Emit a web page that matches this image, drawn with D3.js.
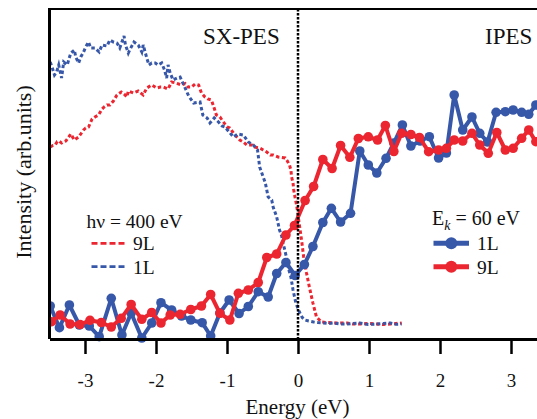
<!DOCTYPE html>
<html>
<head>
<meta charset="utf-8">
<script src="https://cdn.jsdelivr.net/npm/d3@7"></script>
<style>
  body { margin: 0; background: #fff; }
  svg { display: block; }
</style>
</head>
<body>
<svg id="chart" width="537" height="419"></svg>
<script>
// ---- Data (energy in eV relative to E_F, intensity in arbitrary units) ----
const tickValues = [-3, -2, -1, 0, 1, 2, 3];

// SX-PES, hv = 400 eV
const pesE1L = [-3.49,-3.46,-3.43,-3.40,-3.37,-3.33,-3.30,-3.25,-3.23,-3.20,-3.15,-3.13,-3.09,-3.06,-3.02,-2.99,-2.95,-2.92,-2.86,-2.80,-2.76,-2.69,-2.65,-2.60,-2.55,-2.51,-2.45,-2.43,-2.39,-2.37,-2.31,-2.25,-2.20,-2.18,-2.13,-2.10,-2.06,-2.01,-1.97,-1.92,-1.88,-1.85,-1.83,-1.80,-1.76,-1.70,-1.66,-1.59,-1.54,-1.47,-1.38,-1.34,-1.28,-1.24,-1.18,-1.12,-1.07,-1.03,-0.97,-0.91,-0.85,-0.77,-0.70,-0.63,-0.57,-0.54,-0.50,-0.46,-0.42,-0.37,-0.35,-0.30,-0.26,-0.23,-0.21,-0.16,-0.14,-0.10,-0.07,-0.03,0.02,0.06,0.10,0.15,0.22,0.28,0.36,0.42,0.50,0.59,0.69,0.77,0.87,0.99,1.11,1.20,1.30,1.38,1.46];
const pesI1L = [277,271,264,267,274,261,277,274,279,286,289,282,276,282,287,292,297,291,291,287,294,293,299,297,296,291,303,294,286,289,297,294,287,294,281,274,276,276,274,276,269,261,274,266,259,261,262,251,243,236,237,224,221,216,221,217,213,212,207,202,205,204,197,194,189,172,164,156,142,139,132,122,109,103,96,81,72,62,49,36,27,21.5,19,18,17,16.5,16,15.5,16,15,15,15.5,16,14.5,15,15.5,16,14.7,15];

const pesE9L = [-3.49,-3.45,-3.42,-3.39,-3.37,-3.33,-3.31,-3.27,-3.25,-3.20,-3.15,-3.09,-3.06,-3.02,-2.99,-2.95,-2.90,-2.86,-2.81,-2.76,-2.73,-2.69,-2.65,-2.60,-2.55,-2.49,-2.45,-2.41,-2.39,-2.32,-2.25,-2.18,-2.13,-2.06,-1.99,-1.94,-1.90,-1.83,-1.78,-1.72,-1.64,-1.59,-1.55,-1.50,-1.45,-1.40,-1.36,-1.31,-1.27,-1.22,-1.19,-1.15,-1.10,-1.05,-1.00,-0.96,-0.91,-0.86,-0.82,-0.77,-0.72,-0.65,-0.61,-0.54,-0.49,-0.44,-0.39,-0.35,-0.28,-0.23,-0.18,-0.15,-0.12,-0.10,-0.09,-0.07,-0.06,-0.04,-0.02,0.00,0.02,0.05,0.08,0.12,0.16,0.21,0.26,0.33,0.41,0.50,0.59,0.69,0.77,0.87,0.99,1.11,1.20,1.30,1.38,1.46];
const pesI9L = [192,193.5,194,197.5,198,196,197,198,200,205,199,202,205,209,211,212,220,222,224,230,232,234,234,238,244,247,245,242,248,246,248,244,251,254,251,252,252,250,257,256,254,255.5,252,252,255,254,246,242,240,239,233,224,222,217,212,211,206,202,199,197,194,194,192,191,189,187,184,184,182,181.5,181,178,174,169,162,156,149,141,134,124,114,99,82,66,52,36,22,17,16.5,16,16,16,15,15,15.5,15,14.5,15,15.5,16];

// IPES, Ek = 60 eV
const ipesE1L = [-3.49,-3.36,-3.22,-3.08,-2.94,-2.80,-2.63,-2.48,-2.35,-2.20,-2.06,-1.93,-1.78,-1.64,-1.51,-1.35,-1.23,-1.10,-0.97,-0.83,-0.70,-0.56,-0.42,-0.30,-0.17,-0.04,0.09,0.21,0.35,0.47,0.60,0.74,0.87,0.99,1.11,1.24,1.35,1.47,1.59,1.72,1.85,1.98,2.09,2.20,2.32,2.45,2.56,2.67,2.79,2.92,3.03,3.15,3.25,3.35];
const ipesI1L = [33,11.3,34,14,13,2.3,40.7,4,26,1,16,36.3,29,23,19,16.3,3,26,39,25.5,32.5,47.3,42,65.5,76.5,63.5,74.5,92.5,116.5,130.7,117,125.7,188,174,166,180.7,196,214,193,198,202.3,181,186,244,209,222,205.7,197,226.7,227.3,229,226.7,224.7,234];

const ipesE9L = [-3.47,-3.35,-3.21,-3.07,-2.93,-2.77,-2.63,-2.49,-2.35,-2.20,-2.06,-1.93,-1.80,-1.66,-1.51,-1.36,-1.23,-1.10,-0.96,-0.84,-0.70,-0.56,-0.44,-0.30,-0.17,-0.05,0.10,0.22,0.35,0.48,0.60,0.73,0.85,0.99,1.12,1.23,1.35,1.46,1.59,1.71,1.84,1.98,2.09,2.20,2.32,2.45,2.56,2.68,2.80,2.92,3.03,3.15,3.25,3.35];
const ipesI9L = [17.3,24,15,14.5,18.7,16.5,12,20.7,34.5,19.7,26.5,16,24,24.7,29.5,33,44.5,25.7,19,45.7,49,56.5,81.5,85,104,113.5,138.5,152.5,179.5,170.5,193.5,181.7,200.5,202.2,199,213.5,187.5,205.7,204.5,201.5,187.3,189,190.7,199,198,205.7,194,185.7,206.5,189,190.7,200.7,209,197.3];

// ---- Layout ----
const blue = "#3757a8";
const red = "#ec2630";
const serif = '"Liberation Serif"';
const plotLeft = 49.5, plotTop = 9, plotBottom = 339;

const svg = d3.select("#chart");
const x = d3.scaleLinear().domain([-3.5, 3.45]).range([plotLeft, plotLeft + 71 * 6.95]);
const y = d3.scaleLinear().domain([0, 330]).range([plotBottom, plotTop]);
const plotRight = x.range()[1];

const zip = (xs, ys) => xs.map((e, i) => [e, ys[i]]);
const line = d3.line().x(d => x(d[0])).y(d => y(d[1]));

// Text helper with explicit serif face
const label = (sel, size) => sel.style("font-family", serif)
  .style("font-size", size + "px").attr("fill", "#111");

svg.append("defs").append("clipPath").attr("id", "plotClip")
  .append("rect").attr("x", plotLeft).attr("y", plotTop)
  .attr("width", plotRight - plotLeft).attr("height", plotBottom - plotTop + 6);

const plot = svg.append("g").attr("clip-path", "url(#plotClip)");

// SX-PES curves (dotted)
[[pesE9L, pesI9L, red], [pesE1L, pesI1L, blue]].forEach(([xs, ys, c]) => {
  plot.append("path").datum(zip(xs, ys))
    .attr("d", line).attr("fill", "none").attr("stroke", c)
    .attr("stroke-width", 3).attr("stroke-dasharray", "3.5,2.5");
});

// IPES curves (line + circle markers)
[[ipesE1L, ipesI1L, blue], [ipesE9L, ipesI9L, red]].forEach(([xs, ys, c]) => {
  const pts = zip(xs, ys);
  const g = plot.append("g");
  g.append("path").datum(pts).attr("d", line).attr("fill", "none")
    .attr("stroke", c).attr("stroke-width", 4).attr("stroke-linejoin", "round");
  g.selectAll("circle").data(pts).join("circle")
    .attr("cx", d => x(d[0])).attr("cy", d => y(d[1])).attr("r", 4.8).attr("fill", c);
});

// Fermi level marker
svg.append("line")
  .attr("x1", x(0)).attr("x2", x(0)).attr("y1", plotTop).attr("y2", plotBottom)
  .attr("stroke", "#000").attr("stroke-width", 2.5).attr("stroke-dasharray", "2.5,1.5");

// Frame: left and top
svg.append("line").attr("x1", plotLeft).attr("x2", plotLeft).attr("y1", plotTop - 1).attr("y2", plotBottom)
  .attr("stroke", "#000").attr("stroke-width", 3);
svg.append("line").attr("x1", plotLeft).attr("x2", plotRight).attr("y1", plotTop).attr("y2", plotTop)
  .attr("stroke", "#000").attr("stroke-width", 2);

// Bottom axis
const xAxis = svg.append("g").attr("transform", `translate(0,${plotBottom})`)
  .call(d3.axisBottom(x).tickValues(tickValues).tickSize(15).tickSizeOuter(0).tickFormat(d => String(d)));
xAxis.attr("font-family", null);
xAxis.select(".domain").attr("stroke", "#000").attr("stroke-width", 3);
xAxis.selectAll(".tick line").attr("stroke", "#000").attr("stroke-width", 2.5);
label(xAxis.selectAll(".tick text").attr("y", 48).attr("dy", 0), 19);

// Axis titles
label(svg.append("text").attr("x", 297.5).attr("y", 414).attr("text-anchor", "middle"), 21).text("Energy (eV)");
label(svg.append("text").attr("transform", "translate(31,172) rotate(-90)").attr("text-anchor", "middle"), 22)
  .text("Intensity (arb.units)");

// Region labels
label(svg.append("text").attr("x", 203).attr("y", 44), 23).text("SX-PES");
label(svg.append("text").attr("x", 485).attr("y", 44), 23).text("IPES");

// Legend: SX-PES
label(svg.append("text").attr("x", 86.5).attr("y", 228), 19.5).text("hν = 400 eV");
[["9L", red, 243.3], ["1L", blue, 266.7]].forEach(([lab, c, ly]) => {
  svg.append("line").attr("x1", 91.5).attr("x2", 126).attr("y1", ly).attr("y2", ly)
    .attr("stroke", c).attr("stroke-width", 2.8).attr("stroke-dasharray", "6,3");
  label(svg.append("text").attr("x", 133).attr("y", ly + 7), 19.5).text(lab);
});

// Legend: IPES
const ek = label(svg.append("text").attr("x", 432).attr("y", 225), 20);
ek.append("tspan").text("E");
ek.append("tspan").attr("dy", 5).style("font-size", "14px").style("font-style", "italic").text("k");
ek.append("tspan").attr("dy", -5).text(" = 60 eV");
[["1L", blue, 243.3], ["9L", red, 266.7]].forEach(([lab, c, ly]) => {
  svg.append("line").attr("x1", 433.5).attr("x2", 469).attr("y1", ly).attr("y2", ly)
    .attr("stroke", c).attr("stroke-width", 5);
  svg.append("circle").attr("cx", 451.3).attr("cy", ly).attr("r", 6).attr("fill", c);
  label(svg.append("text").attr("x", 477).attr("y", ly + 7), 19.5).text(lab);
});
</script>
</body>
</html>
